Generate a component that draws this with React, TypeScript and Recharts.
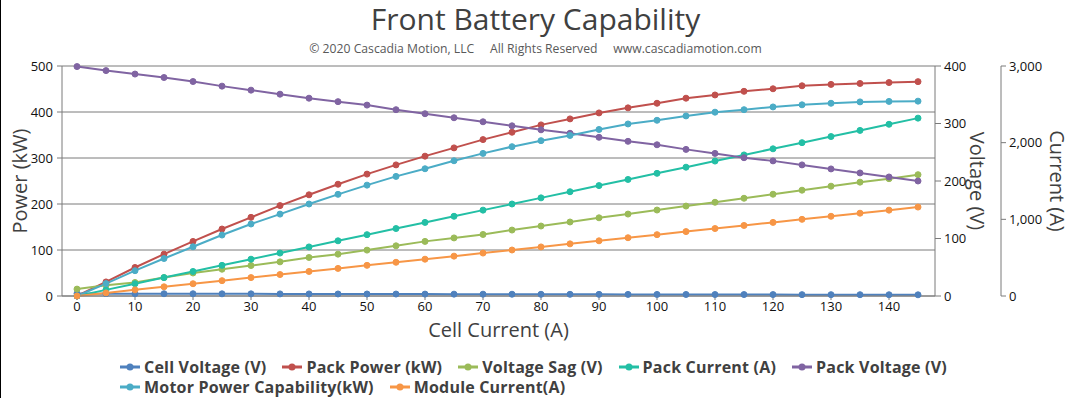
import { CartesianGrid, Line, LineChart, XAxis, YAxis } from 'recharts';

const cellCurrent = [0, 5, 10, 15, 20, 25, 30, 35, 40, 45, 50, 55, 60, 65, 70, 75, 80, 85, 90, 95, 100, 105, 110, 115, 120, 125, 130, 135, 140, 145];

const cellVoltage = [4.16, 4.08, 4.02, 3.96, 3.89, 3.8, 3.73, 3.66, 3.58, 3.52, 3.46, 3.38, 3.3, 3.23, 3.16, 3.08, 3.01, 2.95, 2.88, 2.8, 2.74, 2.66, 2.58, 2.51, 2.45, 2.38, 2.3, 2.23, 2.16, 2.08];
const packPower = [0, 30.6, 62, 91, 118.6, 145.6, 171, 196.5, 220, 243, 265, 285, 304, 322, 340, 356, 372, 385, 398, 409, 419, 430, 437, 445, 450.5, 457, 460, 462, 464, 466];
const voltageSag = [12, 18.6, 23.5, 32, 40, 46.6, 53, 59.4, 67, 72.8, 79.8, 87.3, 95, 101, 107, 114.7, 121.7, 128.7, 136, 142.5, 149.5, 156.4, 163, 170, 177, 184, 191, 198, 204, 211];
const packCurrent = [0, 80, 160, 240, 320, 400, 480, 560, 640, 720, 800, 880, 960, 1040, 1120, 1200, 1280, 1360, 1440, 1520, 1600, 1680, 1760, 1840, 1920, 2000, 2080, 2160, 2240, 2320];
const packVoltage = [399, 392, 386, 380, 373, 365, 358, 351, 344, 338, 332, 324, 317, 310, 303, 296, 289, 283, 276, 269, 263, 255, 248, 240.5, 235, 228, 221, 214, 207, 200];
const motorPower = [0, 27, 55, 81.5, 107, 132.5, 156.5, 178, 200, 221, 241, 260, 276.6, 294, 310, 324.6, 337.7, 349, 362, 374, 382, 391.5, 399.6, 405, 411, 415.6, 419, 422, 423, 423.6];
const moduleCurrent = [0, 40, 80, 120, 160, 200, 240, 280, 320, 360, 400, 440, 480, 520, 560, 600, 640, 680, 720, 760, 800, 840, 880, 920, 960, 1000, 1040, 1080, 1120, 1160];

const xTicks = [0, 10, 20, 30, 40, 50, 60, 70, 80, 90, 100, 110, 120, 130, 140];
const powerTicks = [0, 100, 200, 300, 400, 500];
const voltTicks = [0, 100, 200, 300, 400];
const currentTicks = [0, 1000, 2000, 3000];

// axis ids: the right-hand axes are laid out inner to outer in id order
const POWER = 'a-power';
const VOLT = 'b-volt';
const CURRENT = 'c-current';

const series = [
  { key: 'cellVoltage', name: 'Cell Voltage (V)', color: '#4f81bd', axis: VOLT, values: cellVoltage },
  { key: 'packPower', name: 'Pack Power (kW)', color: '#c0504d', axis: POWER, values: packPower },
  { key: 'voltageSag', name: 'Voltage Sag (V)', color: '#9bbb59', axis: VOLT, values: voltageSag },
  { key: 'packCurrent', name: 'Pack Current (A)', color: '#23bfa5', axis: CURRENT, values: packCurrent },
  { key: 'packVoltage', name: 'Pack Voltage (V)', color: '#8064a2', axis: VOLT, values: packVoltage },
  { key: 'motorPower', name: 'Motor Power Capability(kW)', color: '#4bacc6', axis: POWER, values: motorPower },
  { key: 'moduleCurrent', name: 'Module Current(A)', color: '#f79646', axis: CURRENT, values: moduleCurrent },
];

const data = cellCurrent.map((c, i) => {
  const row: Record<string, number> = { current: c };
  series.forEach((s) => {
    row[s.key] = s.values[i];
  });
  return row;
});

const FONT = '"Open Sans", "Noto Sans", sans-serif';
const AXIS = '#7a7a7a';
const tickStyle = { fill: '#111', fontSize: 13, fontFamily: FONT };

const axisTitle = (text: string, dx: number, angle: number) => (props: any) => {
  const vb = props.viewBox;
  const cx = vb.x + dx;
  const cy = vb.y + vb.height / 2;
  return (
    <text
      x={cx}
      y={cy}
      transform={`rotate(${angle} ${cx} ${cy})`}
      textAnchor="middle"
      dominantBaseline="central"
      fill="#404040"
      fontSize={20}
      fontFamily={FONT}
    >
      {text}
    </text>
  );
};

const xTitle = (props: any) => {
  const vb = props.viewBox;
  return (
    <text
      x={vb.x + vb.width / 2}
      y={vb.y + 33}
      textAnchor="middle"
      dominantBaseline="central"
      fill="#404040"
      fontSize={20}
      fontFamily={FONT}
    >
      Cell Current (A)
    </text>
  );
};

export default function App() {
  return (
    <div
      style={{
        position: 'absolute',
        left: 0,
        top: 0,
        width: 1069,
        height: 398,
        background: '#fff',
        borderLeft: '1px solid #000',
        boxSizing: 'border-box',
        fontFamily: FONT,
      }}
    >
      <div
        style={{
          position: 'absolute',
          left: 0,
          width: 1069,
          top: 1,
          textAlign: 'center',
          fontSize: 30,
          color: '#404040',
          lineHeight: '36px',
        }}
      >
        Front Battery Capability
      </div>
      <div
        style={{
          position: 'absolute',
          left: 0,
          width: 1069,
          top: 40,
          textAlign: 'center',
          fontSize: 12.2,
          color: '#595959',
          lineHeight: '18px',
          whiteSpace: 'pre',
        }}
      >
        {'© 2020 Cascadia Motion, LLC     All Rights Reserved     www.cascadiamotion.com'}
      </div>
      <LineChart
        width={1068}
        height={398}
        data={data}
        margin={{ top: 66, right: 0, bottom: 62, left: -1 }}
        style={{ position: 'absolute', left: 0, top: 0 }}
      >
        <CartesianGrid yAxisId={POWER} vertical={false} stroke={AXIS} strokeWidth={1} />
        <XAxis
          dataKey="current"
          ticks={xTicks}
          interval={0}
          height={40}
          padding={{ left: 15, right: 17 }}
          stroke={AXIS}
          tick={tickStyle}
          tickSize={4}
          tickMargin={2}
          label={xTitle}
        />
        <YAxis
          yAxisId={POWER}
          orientation="left"
          width={62}
          domain={[0, 500]}
          ticks={powerTicks}
          stroke={AXIS}
          tick={tickStyle}
          tickSize={5}
          tickMargin={4}
          label={axisTitle('Power (kW)', 19, -90)}
        />
        <YAxis
          yAxisId={VOLT}
          orientation="right"
          width={66}
          domain={[0, 400]}
          ticks={voltTicks}
          stroke={AXIS}
          tick={tickStyle}
          tickSize={6}
          tickMargin={3}
          label={axisTitle('Voltage (V)', 42, 90)}
        />
        <YAxis
          yAxisId={CURRENT}
          orientation="right"
          width={68}
          domain={[0, 3000]}
          ticks={currentTicks}
          stroke={AXIS}
          tick={tickStyle}
          tickSize={5}
          tickMargin={3}
          tickFormatter={(v: number) => v.toLocaleString('en-US')}
          label={axisTitle('Current (A)', 56, 90)}
        />
        {series.map((s) => (
          <Line
            key={s.key}
            yAxisId={s.axis}
            dataKey={s.key}
            name={s.name}
            type="linear"
            stroke={s.color}
            strokeWidth={2}
            dot={{ r: 3, fill: s.color, stroke: s.color, strokeWidth: 1 }}
            activeDot={false}
            isAnimationActive={false}
          />
        ))}
      </LineChart>
      <div
        style={{
          position: 'absolute',
          left: 118,
          top: 357,
          width: 860,
          display: 'flex',
          flexWrap: 'wrap',
          fontSize: 16,
          fontWeight: 700,
          color: '#404040',
          lineHeight: '20px',
          letterSpacing: 0.2,
        }}
      >
        {series.map((s) => (
          <div key={s.key} style={{ display: 'flex', alignItems: 'center', marginRight: 15 }}>
            <svg width={22} height={10} style={{ marginRight: 3 }}>
              <line x1={1} y1={5} x2={21} y2={5} stroke={s.color} strokeWidth={3} />
              <circle cx={11} cy={5} r={3.5} fill={s.color} />
            </svg>
            <span>{s.name}</span>
          </div>
        ))}
      </div>
    </div>
  );
}
